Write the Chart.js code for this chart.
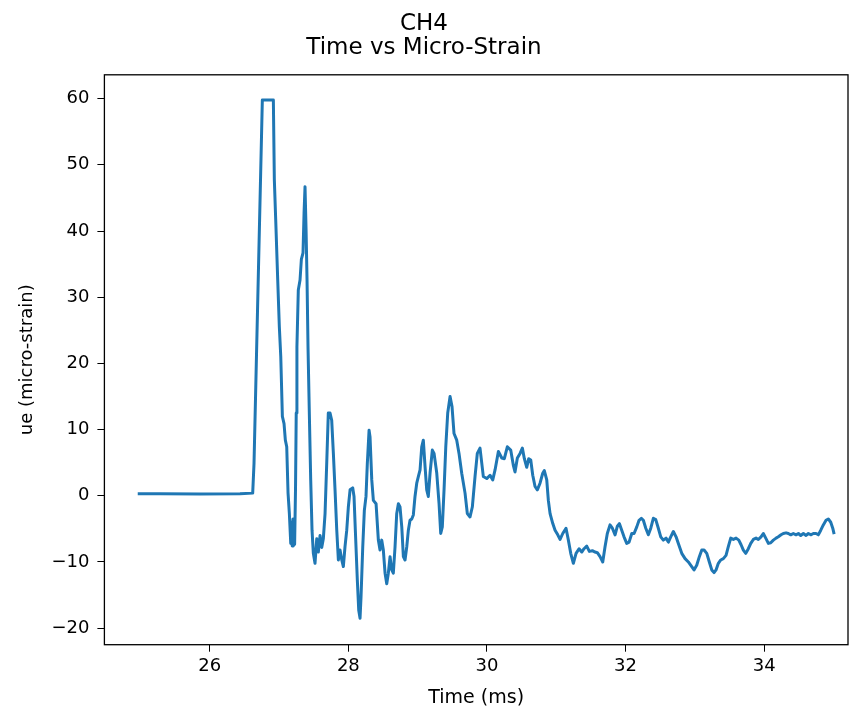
<!DOCTYPE html>
<html>
<head>
<meta charset="utf-8">
<script src="https://cdn.jsdelivr.net/npm/chart.js@4.4.1/dist/chart.umd.min.js"></script>
<style>
  html, body { margin: 0; padding: 0; background: #fff; }
  #wrap { width: 859px; height: 713px; }
</style>
</head>
<body>
<div id="wrap"><canvas id="strainChart"></canvas></div>
<script>
// time axis (ms) and strain readings for CH4
const timeMs = [
  24.961, 25.283, 25.860, 26.437, 26.620, 26.639, 26.759, 26.918, 26.932, 26.952,
  26.981, 27.004, 27.025, 27.048, 27.072, 27.091, 27.111, 27.130, 27.149, 27.169,
  27.180, 27.190, 27.201, 27.211, 27.225, 27.238, 27.248, 27.258, 27.278, 27.303,
  27.322, 27.346, 27.361, 27.375, 27.390, 27.404, 27.418, 27.437, 27.457, 27.476,
  27.495, 27.519, 27.544, 27.567, 27.592, 27.616, 27.639, 27.664, 27.688, 27.711,
  27.736, 27.760, 27.784, 27.808, 27.833, 27.856, 27.880, 27.905, 27.928, 27.952,
  27.977, 28.000, 28.025, 28.063, 28.082, 28.101, 28.130, 28.150, 28.169, 28.183,
  28.208, 28.231, 28.255, 28.274, 28.299, 28.313, 28.338, 28.361, 28.400, 28.433,
  28.457, 28.482, 28.505, 28.530, 28.554, 28.577, 28.602, 28.626, 28.649, 28.674,
  28.698, 28.722, 28.746, 28.771, 28.794, 28.818, 28.843, 28.866, 28.890, 28.915,
  28.938, 28.962, 28.987, 29.010, 29.035, 29.059, 29.082, 29.107, 29.131, 29.154,
  29.179, 29.212, 29.237, 29.276, 29.309, 29.333, 29.356, 29.381, 29.406, 29.434,
  29.468, 29.496, 29.525, 29.564, 29.597, 29.636, 29.684, 29.717, 29.756, 29.789,
  29.828, 29.861, 29.900, 29.948, 29.997, 30.045, 30.084, 30.117, 30.165, 30.214,
  30.251, 30.294, 30.343, 30.381, 30.405, 30.439, 30.478, 30.511, 30.540, 30.574,
  30.603, 30.632, 30.661, 30.694, 30.727, 30.766, 30.805, 30.828, 30.863, 30.886,
  30.911, 30.950, 30.983, 31.022, 31.055, 31.094, 31.141, 31.175, 31.209, 31.247,
  31.286, 31.329, 31.368, 31.401, 31.440, 31.478, 31.521, 31.560, 31.593, 31.632,
  31.671, 31.704, 31.737, 31.776, 31.810, 31.849, 31.882, 31.911, 31.945, 31.978,
  32.017, 32.051, 32.090, 32.123, 32.162, 32.195, 32.228, 32.257, 32.292, 32.329,
  32.364, 32.401, 32.436, 32.473, 32.508, 32.545, 32.584, 32.618, 32.652, 32.690,
  32.729, 32.762, 32.811, 32.859, 32.906, 32.955, 32.988, 33.027, 33.065, 33.100,
  33.133, 33.172, 33.209, 33.244, 33.277, 33.306, 33.339, 33.374, 33.411, 33.450,
  33.483, 33.518, 33.556, 33.595, 33.634, 33.667, 33.700, 33.735, 33.772, 33.807,
  33.844, 33.883, 33.916, 33.955, 33.988, 34.023, 34.061, 34.095, 34.133, 34.172,
  34.205, 34.244, 34.277, 34.316, 34.349, 34.384, 34.421, 34.460, 34.494, 34.528,
  34.566, 34.605, 34.638, 34.677, 34.710, 34.749, 34.782, 34.817, 34.854, 34.893,
  34.926, 34.961, 34.990, 35.010
];
const microStrain = [
  0.3, 0.3, 0.25, 0.3, 0.4, 4.9, 59.8, 59.8, 47.8, 41.7,
  32.6, 25.6, 21.0, 12.0, 10.9, 8.4, 7.4, 0.4, -2.7, -7.2,
  -4.0, -7.6, -3.5, -7.5, -7.3, 1.2, 12.5, 22.5, 31.1, 32.6,
  35.7, 36.7, 42.7, 46.7, 40.2, 32.6, 22.5, 12.5, 2.4, -5.2,
  -8.7, -10.2, -6.5, -8.5, -6.0, -7.8, -6.5, -2.7, 4.9, 12.5,
  12.5, 11.4, 6.4, 0.9, -5.2, -9.7, -8.2, -9.7, -10.7, -7.7,
  -5.2, -1.7, 0.9, 1.2, -0.1, -5.2, -12.8, -17.3, -18.5, -15.3,
  -7.7, -2.2, -0.1, 4.9, 9.9, 8.9, 2.4, -0.7, -1.2, -6.7,
  -8.2, -6.7, -8.2, -11.7, -13.3, -11.7, -9.2, -11.2, -11.7, -7.7,
  -2.7, -1.2, -1.7, -4.7, -9.2, -9.7, -7.7, -5.2, -3.7, -3.5,
  -2.9, -0.1, 1.9, 2.9, 3.9, 7.4, 8.4, 4.4, 0.9, -0.1,
  3.4, 6.9, 6.4, 3.4, -1.2, -5.7, -4.7, 0.9, 7.4, 12.5,
  15.0, 13.5, 9.4, 8.4, 6.4, 3.4, 0.4, -2.7, -3.2, -1.7,
  2.9, 6.4, 7.2, 2.9, 2.6, 3.1, 2.4, 3.9, 6.7, 5.7,
  5.6, 7.4, 6.9, 4.6, 3.6, 5.7, 6.4, 7.2, 5.6, 4.3,
  5.6, 5.4, 3.1, 1.4, 0.9, 1.9, 3.4, 3.8, 2.4, -0.7,
  -2.7, -4.2, -5.2, -5.9, -6.6, -5.7, -4.9, -6.7, -8.7, -10.2,
  -8.7, -8.0, -8.5, -8.0, -7.6, -8.4, -8.3, -8.5, -8.6, -9.2,
  -10.0, -7.7, -5.7, -4.4, -4.9, -5.9, -4.6, -4.2, -5.2, -6.2,
  -7.2, -7.0, -5.7, -5.7, -4.7, -3.7, -3.4, -3.7, -4.9, -5.9,
  -4.9, -3.4, -3.6, -4.9, -6.2, -6.7, -6.4, -7.0, -6.2, -5.4,
  -6.2, -7.2, -8.7, -9.5, -10.0, -10.7, -11.2, -10.5, -9.2, -8.2,
  -8.2, -8.7, -10.0, -11.2, -11.6, -11.2, -10.2, -9.7, -9.5, -9.0,
  -7.7, -6.4, -6.6, -6.4, -6.7, -7.4, -8.2, -8.7, -8.0, -7.2,
  -6.6, -6.4, -6.6, -6.2, -5.7, -6.4, -7.2, -7.1, -6.7, -6.4,
  -6.2, -5.9, -5.7, -5.6, -5.7, -5.9, -5.7, -5.9, -5.7, -6.0,
  -5.7, -6.0, -5.7, -5.9, -5.7, -5.7, -5.9, -5.2, -4.4, -3.7,
  -3.5, -4.0, -4.9, -5.8
];
const xTicks = [26, 28, 30, 32, 34];
const yTicks = [-20, -10, 0, 10, 20, 30, 40, 50, 60];

const points = timeMs.map((t, i) => ({ x: t, y: microStrain[i] }));

// black box around the plot area, like matplotlib spines
const frame = {
  id: 'frame',
  afterDraw(chart) {
    const { ctx, chartArea: a } = chart;
    ctx.save();
    ctx.strokeStyle = '#000';
    ctx.lineWidth = 1.3;
    ctx.strokeRect(a.left, a.top, a.right - a.left, a.bottom - a.top);
    ctx.restore();
  }
};

const font = 'DejaVu Sans';
// matplotlib prints a real minus sign
const tickText = v => String(v).replace('-', '\u2212');

new Chart(document.getElementById('strainChart'), {
  type: 'scatter',
  data: {
    datasets: [{
      data: points,
      showLine: true,
      borderColor: '#1f77b4',
      borderWidth: 3,
      borderJoinStyle: 'round',
      pointRadius: 0,
      tension: 0
    }]
  },
  options: {
    responsive: true,
    maintainAspectRatio: false,
    animation: false,
    layout: { padding: { left: 0, right: 11, top: 0, bottom: 0 } },
    plugins: {
      legend: { display: false },
      tooltip: { enabled: false },
      title: {
        display: true,
        text: ['CH4', 'Time vs Micro-Strain'],
        color: '#000',
        font: { family: font, size: 23, weight: 'normal', lineHeight: 1.05 },
        padding: { top: 12, bottom: 14.5 }
      }
    },
    scales: {
      x: {
        type: 'linear',
        min: 24.48,
        max: 35.21,
        afterBuildTicks: s => { s.ticks = xTicks.map(v => ({ value: v })); },
        afterFit: s => { s.height = 68.3; },
        border: { display: false },
        grid: { drawOnChartArea: false, drawTicks: true, tickLength: 7, color: '#000' },
        ticks: { color: '#000', padding: 4, font: { family: font, size: 18 }, callback: tickText },
        title: {
          display: true,
          text: 'Time (ms)',
          color: '#000',
          font: { family: font, size: 19 },
          padding: { top: 0, bottom: 4 }
        }
      },
      y: {
        min: -22.5,
        max: 63.6,
        afterBuildTicks: s => { s.ticks = yTicks.map(v => ({ value: v })); },
        afterFit: s => { s.width = 104.4; },
        border: { display: false },
        grid: { drawOnChartArea: false, drawTicks: true, tickLength: 7, color: '#000' },
        ticks: { color: '#000', padding: 8, font: { family: font, size: 18 }, callback: tickText },
        title: {
          display: true,
          text: 'ue (micro-strain)',
          color: '#000',
          font: { family: font, size: 18 },
          padding: { top: 17, bottom: 0 }
        }
      }
    }
  },
  plugins: [frame]
});
</script>
</body>
</html>
